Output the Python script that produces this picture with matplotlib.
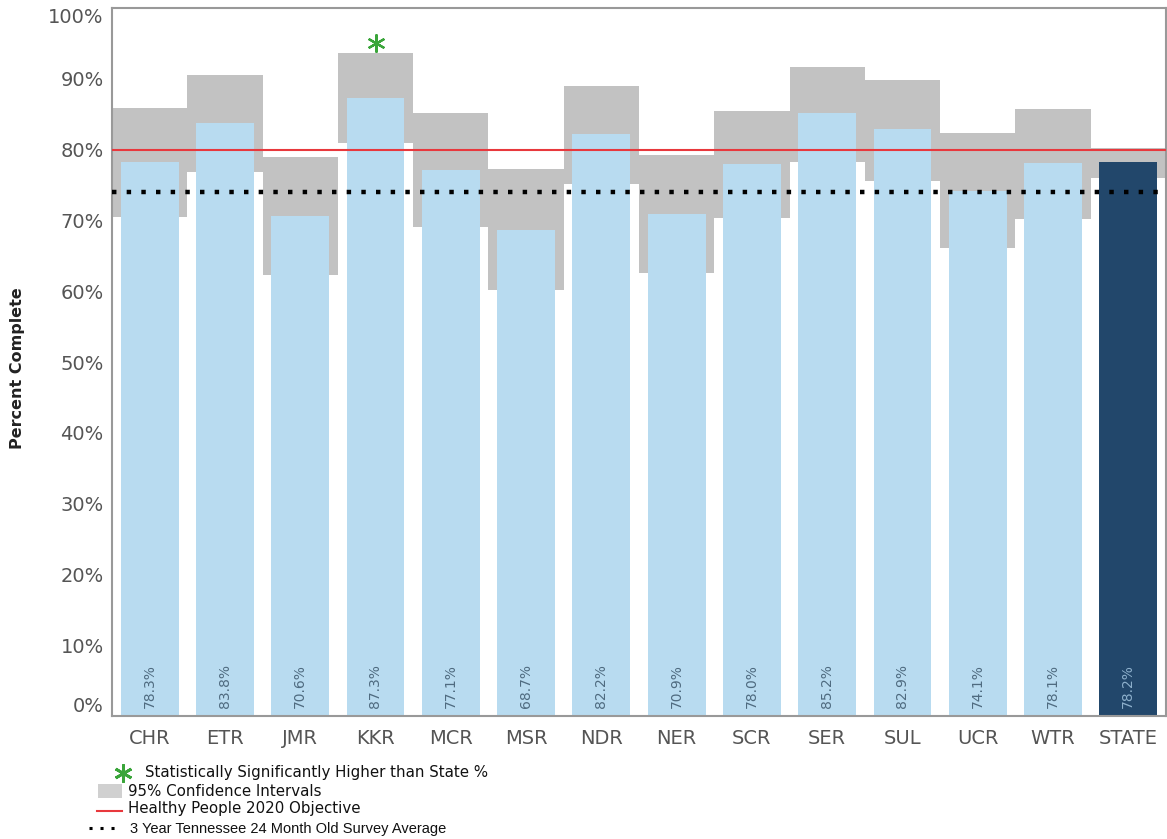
import numpy as np
import matplotlib
matplotlib.use('Agg')
import matplotlib.pyplot as plt
from matplotlib.patches import Rectangle
from matplotlib.lines import Line2D

regions = ['CHR', 'ETR', 'JMR', 'KKR', 'MCR', 'MSR', 'NDR', 'NER', 'SCR', 'SER', 'SUL', 'UCR', 'WTR', 'STATE']
values = [78.3, 83.8, 70.6, 87.3, 77.1, 68.7, 82.2, 70.9, 78.0, 85.2, 82.9, 74.1, 78.1, 78.2]
ci_low = [70.5, 76.9, 62.3, 81.0, 69.0, 60.1, 75.2, 62.6, 70.4, 78.3, 75.5, 66.1, 70.2, 76.0]
ci_high = [85.9, 90.5, 78.9, 93.6, 85.1, 77.2, 89.0, 79.3, 85.4, 91.7, 89.9, 82.3, 85.8, 80.2]
significant = ['KKR']
hp2020_objective = 80.0
survey_avg = 74.0
yticks = [0, 10, 20, 30, 40, 50, 60, 70, 80, 90, 100]

light_blue = '#b8dbf0'
dark_blue = '#22476b'
ci_gray = '#c2c2c2'
red = '#e8383d'
green = '#3aa53a'

W, H = 1167, 839
fig = plt.figure(figsize=(W / 100, H / 100), dpi=100)
ax = fig.add_axes([112 / W, 1 - 716 / H, (1166 - 112) / W, (716 - 8) / H])

x = np.arange(len(regions))
lo = np.array(ci_low)
hi = np.array(ci_high)

# confidence bands behind the bars
ax.bar(x, hi - lo, bottom=lo, width=1.0, color=ci_gray, zorder=1, linewidth=0)

colors = [dark_blue if r == 'STATE' else light_blue for r in regions]
ax.bar(x, values, width=0.77, color=colors, zorder=2, linewidth=0)

for xi, v, r in zip(x, values, regions):
    tc = '#8db0cc' if r == 'STATE' else '#4f6b80'
    ax.text(xi, 1.2, f'{v:.1f}%', rotation=90, ha='center', va='bottom',
            fontsize=10, color=tc, zorder=5)

ax.axhline(hp2020_objective, color=red, lw=1.5, zorder=4)
ax.axhline(survey_avg, color='black', lw=3.2, linestyle=(0, (1, 2.3)), zorder=4)

for r in significant:
    i = regions.index(r)
    ax.plot(x[i], 95.0, marker=(6, 2, 0), ms=13, mew=1.6, color=green, zorder=5)

ax.set_xlim(-0.5, len(regions) - 0.5)
ax.set_ylim(0, 100)
ax.set_xticks(x)
ax.set_xticklabels(regions, fontsize=14, color='#555555')
ax.set_yticks(yticks)
ax.set_yticklabels([f'{t}%' for t in yticks], fontsize=14, color='#555555')
ylabs = ax.get_yticklabels()
ylabs[0].set_va('bottom')
ylabs[-1].set_va('top')
ax.tick_params(axis='both', length=0)
ax.tick_params(axis='x', pad=9)
ax.tick_params(axis='y', pad=6)
for s in ax.spines.values():
    s.set_color('#999999')
    s.set_linewidth(1.5)

fig.text(18 / W, 1 - 368 / H, 'Percent Complete', rotation=90, ha='center', va='center',
         fontsize=11.5, color='#222222', fontweight='semibold')

# legend under the chart
def fy(py):
    return 1 - py / H

fig.add_artist(Line2D([123 / W], [fy(773)], marker=(6, 2, 0), ms=13, mew=2, color=green))
fig.text(145 / W, fy(773), 'Statistically Significantly Higher than State %',
         fontsize=10.8, va='center', color='#111111')
fig.add_artist(Rectangle((98 / W, fy(798)), 24 / W, 14 / H, color='#d0d0d0', lw=0))
fig.text(128 / W, fy(791), '95% Confidence Intervals', fontsize=10.8, va='center', color='#111111')
fig.add_artist(Line2D([97 / W, 122 / W], [fy(811), fy(811)], color=red, lw=1.5))
fig.text(128 / W, fy(809), 'Healthy People 2020 Objective', fontsize=10.8, va='center', color='#111111')
fig.add_artist(Line2D([89 / W, 119 / W], [fy(828), fy(828)], color='black', lw=2.2,
                      linestyle=(0, (1, 2.6))))
fig.text(130 / W, fy(829), '3 Year Tennessee 24 Month Old Survey Average',
         fontsize=10.5, va='center', color='#111111', family='Liberation Sans')

fig.savefig('out.png', dpi=100)
